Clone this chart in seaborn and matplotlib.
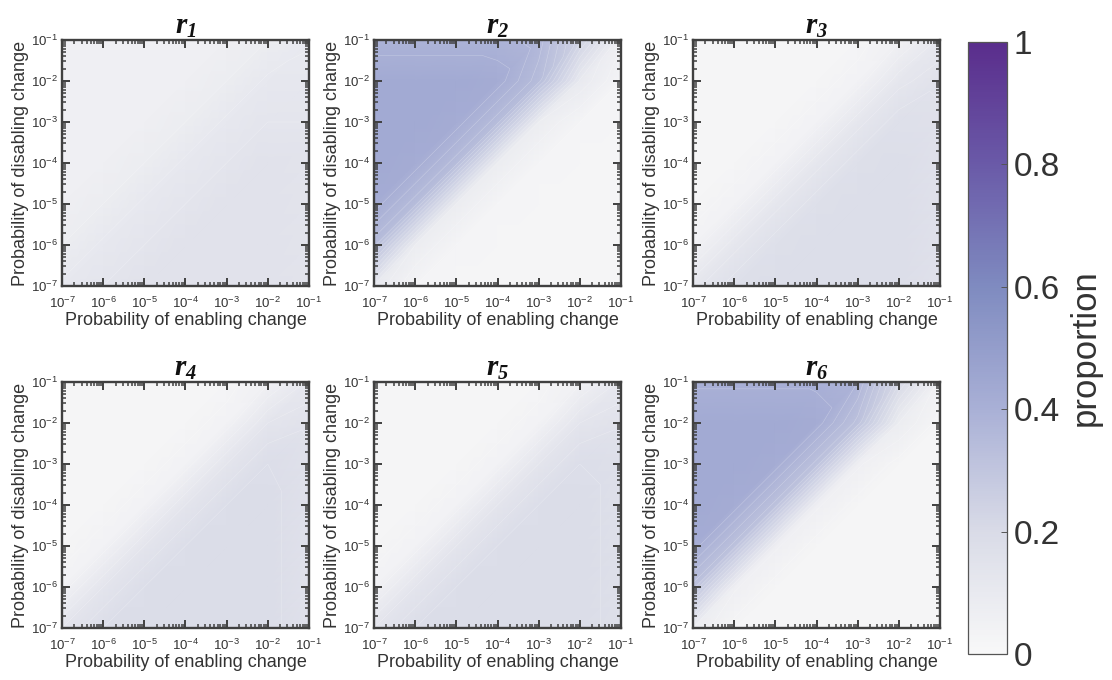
import numpy as np
import matplotlib
matplotlib.use("Agg")
import matplotlib.pyplot as plt
import matplotlib.tri as mtri
import seaborn as sns
from matplotlib.cm import ScalarMappable
from matplotlib.colors import Normalize

sns.set_theme(style="ticks")
plt.rcParams['font.family'] = ['Liberation Sans', 'DejaVu Sans']
plt.rcParams['mathtext.fontset'] = 'custom'
plt.rcParams['mathtext.rm'] = 'Liberation Sans'
plt.rcParams['mathtext.it'] = 'Liberation Serif:italic:bold'
plt.rcParams['mathtext.bf'] = 'Liberation Serif:italic:bold'

# grid: probability of enabling (x) / disabling (y) change, decades
enable_prob = [1e-7, 1e-6, 1e-5, 1e-4, 1e-3, 1e-2, 1e-1]
disable_prob = [1e-7, 1e-6, 1e-5, 1e-4, 1e-3, 1e-2, 1e-1]

# proportion, rows = disabling prob (bottom -> top), cols = enabling prob
r1 = [[0.11, 0.13, 0.15, 0.15, 0.15, 0.15, 0.14],
      [0.08, 0.11, 0.13, 0.15, 0.15, 0.15, 0.14],
      [0.06, 0.08, 0.11, 0.13, 0.15, 0.15, 0.14],
      [0.06, 0.06, 0.08, 0.11, 0.13, 0.15, 0.14],
      [0.06, 0.06, 0.06, 0.08, 0.11, 0.13, 0.13],
      [0.06, 0.06, 0.06, 0.06, 0.08, 0.11, 0.12],
      [0.06, 0.06, 0.06, 0.06, 0.06, 0.08, 0.10]]

r2 = [[0.10, 0.03, 0.02, 0.02, 0.02, 0.02, 0.02],
      [0.34, 0.08, 0.03, 0.02, 0.02, 0.02, 0.02],
      [0.42, 0.34, 0.08, 0.03, 0.02, 0.02, 0.02],
      [0.43, 0.42, 0.34, 0.08, 0.03, 0.02, 0.02],
      [0.43, 0.43, 0.42, 0.34, 0.08, 0.03, 0.02],
      [0.43, 0.43, 0.43, 0.42, 0.34, 0.10, 0.03],
      [0.39, 0.39, 0.39, 0.39, 0.37, 0.24, 0.06]]

r3 = [[0.12, 0.17, 0.18, 0.18, 0.18, 0.18, 0.16],
      [0.04, 0.12, 0.17, 0.18, 0.18, 0.18, 0.16],
      [0.02, 0.04, 0.12, 0.17, 0.18, 0.18, 0.16],
      [0.02, 0.02, 0.04, 0.12, 0.17, 0.18, 0.16],
      [0.02, 0.02, 0.02, 0.04, 0.12, 0.17, 0.16],
      [0.02, 0.02, 0.02, 0.02, 0.04, 0.12, 0.15],
      [0.02, 0.02, 0.02, 0.02, 0.02, 0.05, 0.11]]

r4 = [[0.13, 0.18, 0.19, 0.19, 0.19, 0.19, 0.16],
      [0.04, 0.13, 0.18, 0.19, 0.19, 0.19, 0.16],
      [0.02, 0.04, 0.13, 0.18, 0.19, 0.19, 0.16],
      [0.02, 0.02, 0.04, 0.13, 0.18, 0.19, 0.16],
      [0.02, 0.02, 0.02, 0.04, 0.13, 0.18, 0.16],
      [0.02, 0.02, 0.02, 0.02, 0.04, 0.13, 0.15],
      [0.02, 0.02, 0.02, 0.02, 0.02, 0.05, 0.11]]

r5 = [[0.13, 0.18, 0.19, 0.19, 0.19, 0.19, 0.17],
      [0.04, 0.13, 0.18, 0.19, 0.19, 0.19, 0.17],
      [0.02, 0.04, 0.13, 0.18, 0.19, 0.19, 0.17],
      [0.02, 0.02, 0.04, 0.13, 0.18, 0.19, 0.17],
      [0.02, 0.02, 0.02, 0.04, 0.13, 0.18, 0.17],
      [0.02, 0.02, 0.02, 0.02, 0.04, 0.13, 0.15],
      [0.02, 0.02, 0.02, 0.02, 0.02, 0.05, 0.11]]

r6 = [[0.08, 0.02, 0.02, 0.02, 0.02, 0.02, 0.02],
      [0.32, 0.06, 0.02, 0.02, 0.02, 0.02, 0.02],
      [0.42, 0.32, 0.06, 0.02, 0.02, 0.02, 0.02],
      [0.43, 0.42, 0.32, 0.06, 0.02, 0.02, 0.02],
      [0.43, 0.43, 0.42, 0.32, 0.06, 0.02, 0.02],
      [0.43, 0.43, 0.43, 0.42, 0.32, 0.08, 0.02],
      [0.40, 0.40, 0.40, 0.40, 0.38, 0.21, 0.05]]

panels = [r1, r2, r3, r4, r5, r6]
titles = ['1', '2', '3', '4', '5', '6']

cbar_colors = ['#f8f8f8', '#d9dbe7', '#a9b0d6', '#7f8bc0', '#6a5aa8', '#5a2d8c']
cmap = sns.blend_palette(cbar_colors, as_cmap=True)

edge = '#404040'
txt = '#333333'

# work in decades (log10) so the shading is linear on the log grid
ex = np.log10(enable_prob)
ey = np.log10(disable_prob)
xx, yy = np.meshgrid(ex, ey)
n = len(ex)
# split every cell along the x=y direction so bands follow the diagonal
tris = []
for j in range(n - 1):
    for i in range(n - 1):
        bl, br = j * n + i, j * n + i + 1
        tl, tr = (j + 1) * n + i, (j + 1) * n + i + 1
        tris.append([bl, br, tr])
        tris.append([bl, tr, tl])
triang = mtri.Triangulation(xx.ravel(), yy.ravel(), tris)

major = ex
minor = np.concatenate([e + np.log10(np.arange(2, 10)) for e in ex[:-1]])
labels = [r'$\mathdefault{10^{%d}}$' % e for e in np.round(ex).astype(int)]

fig = plt.figure(figsize=(11.12, 6.8), dpi=100)
lefts = [62, 374, 693]
tops = [40, 382]
W, H = 247, 246

for k, Z in enumerate(panels):
    row, col = divmod(k, 3)
    x0 = lefts[col] / 1112
    y0 = 1 - (tops[row] + H) / 680
    ax = fig.add_axes([x0, y0, W / 1112, H / 680])
    z = np.array(Z).ravel()
    ax.tripcolor(triang, z, shading='gouraud', cmap=cmap, vmin=0, vmax=1)
    ax.tricontour(triang, z, levels=np.arange(0.03, 1, 0.025), colors='white',
                  linewidths=0.4, alpha=0.3)
    ax.set_xlim(ex[0], ex[-1])
    ax.set_ylim(ey[0], ey[-1])
    ax.set_axisbelow(False)
    ax.set_xticks(major, labels)
    ax.set_yticks(major, labels)
    ax.set_xticks(minor, minor=True)
    ax.set_yticks(minor, minor=True)
    ax.tick_params(which='both', direction='in', top=True, right=True,
                   color=edge, labelcolor=txt, labelsize=9.5)
    ax.tick_params(axis='x', which='major', pad=7)
    ax.tick_params(axis='y', which='major', pad=3)
    ax.tick_params(which='major', length=5.5, width=1.4)
    ax.tick_params(which='minor', length=3, width=1.1)
    for s in ax.spines.values():
        s.set_linewidth(1.7)
        s.set_color(edge)
    ax.set_xlabel('Probability of enabling change', fontsize=13, color=txt, labelpad=1)
    ax.set_ylabel('Probability of disabling change', fontsize=13, color=txt, labelpad=1)
    ax.set_title(r'$r_{\mathbf{%s}}$' % titles[k], fontsize=21, color='#111111', pad=3)

cax = fig.add_axes([968 / 1112, 1 - 654 / 680, 39 / 1112, 612 / 680])
cb = fig.colorbar(ScalarMappable(norm=Normalize(0, 1), cmap=cmap), cax=cax)
cb.set_ticks([0, 0.2, 0.4, 0.6, 0.8, 1])
cb.set_ticklabels(['0', '0.2', '0.4', '0.6', '0.8', '1'])
cb.outline.set_linewidth(0.9)
cb.outline.set_edgecolor('#555555')
cax.set_axisbelow(False)
cax.tick_params(direction='in', length=4, width=0.7, color='#555555',
                labelsize=24, labelcolor=txt, pad=5)
cax.set_ylabel('proportion', fontsize=25, color=txt, labelpad=6)

fig.savefig('out.png', dpi=100, facecolor='white')
